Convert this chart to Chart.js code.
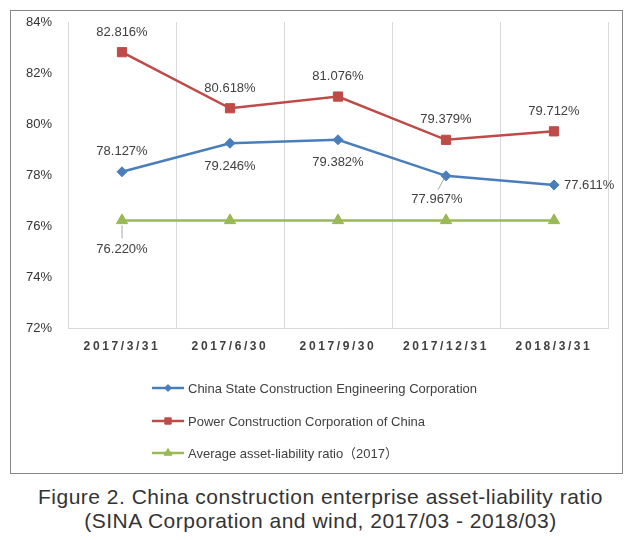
<!DOCTYPE html>
<html>
<head>
<meta charset="utf-8">
<script src="https://cdn.jsdelivr.net/npm/chart.js@4/dist/chart.umd.min.js"></script>
<style>
  body { margin: 0; background: #fff; width: 641px; height: 540px; position: relative; overflow: hidden; }
  #box { position: absolute; left: 10px; top: 10px; width: 611px; height: 462px; border: 1px solid #868686; }
  #caption {
    position: absolute; left: 0; top: 485px; width: 641px; text-align: center;
    font-family: "Liberation Sans", Arial, sans-serif; font-size: 21px; line-height: 24px;
    letter-spacing: 0.5px; color: #333;
  }
</style>
</head>
<body>
<div id="box"><canvas id="ratioChart"></canvas></div>
<div id="caption">Figure 2. China construction enterprise asset-liability ratio<br>(SINA Corporation and wind, 2017/03 - 2018/03)</div>
<script>
// quarter-end dates
const categories = ["2017/3/31", "2017/6/30", "2017/9/30", "2017/12/31", "2018/3/31"];
const seriesNames = [
  "China State Construction Engineering Corporation",
  "Power Construction Corporation of China",
  "Average asset-liability ratio（2017）"
];
// asset-liability ratio, %
const cscecRatio = [78.127, 79.246, 79.382, 77.967, 77.611];
const powerChinaRatio = [82.816, 80.618, 81.076, 79.379, 79.712];
const averageRatio = [76.220, 76.220, 76.220, 76.220, 76.220];
const yMin = 72;
const yMax = 84;
const yStep = 2;

const FONT = '"Liberation Sans", Arial, "Noto Sans CJK SC", sans-serif';
Chart.defaults.font.family = FONT;

// value labels beside the points, the spaced x labels and the stacked legend
const pointLabels = {
  id: "pointLabels",
  afterDatasetsDraw(chart) {
    const ctx = chart.ctx;
    ctx.save();
    ctx.font = "13px " + FONT;
    ctx.fillStyle = "#404040";
    ctx.textBaseline = "middle";
    ctx.strokeStyle = "#a6a6a6";
    ctx.lineWidth = 1;
    chart.data.datasets.forEach((ds, di) => {
      const meta = chart.getDatasetMeta(di);
      meta.data.forEach((pt, i) => {
        const pos = ds.labelPos[i];
        if (!pos) return;
        const text = ds.data[i].toFixed(3) + "%";
        let x = pt.x;
        let y = pt.y;
        ctx.textAlign = "center";
        if (pos === "top") {
          y -= 20;
        } else if (pos === "bottom") {
          y += 23;
        } else if (pos === "right") {
          ctx.textAlign = "left";
          x += 10;
          y += 1;
        } else if (pos === "leaderDown") {
          ctx.beginPath();
          ctx.moveTo(x, y + 5);
          ctx.lineTo(x, y + 18);
          ctx.stroke();
          y += 29;
        } else if (pos === "leaderLeft") {
          ctx.beginPath();
          ctx.moveTo(x - 2, y + 3);
          ctx.lineTo(x - 8, y + 14);
          ctx.stroke();
          x -= 9;
          y += 24;
        }
        ctx.fillText(text, x, y);
      });
    });
    ctx.restore();
    // x tick labels sit on layer z=1, drawn right after this hook
    ctx.letterSpacing = "2.6px";
  },
  afterDraw(chart) {
    const ctx = chart.ctx;
    ctx.letterSpacing = "0px";
    ctx.save();
    ctx.font = "13px " + FONT;
    ctx.textBaseline = "middle";
    ctx.textAlign = "left";
    const x0 = 141;
    const rows = [377, 410, 442];
    chart.data.datasets.forEach((ds, di) => {
      const y = rows[di];
      ctx.strokeStyle = ds.borderColor;
      ctx.lineWidth = 2.5;
      ctx.beginPath();
      ctx.moveTo(x0, y);
      ctx.lineTo(x0 + 32, y);
      ctx.stroke();
      ctx.fillStyle = ds.borderColor;
      ctx.lineWidth = 1;
      Chart.helpers.drawPoint(ctx, {
        pointStyle: ds.pointStyle,
        radius: ds.legendRadius,
        rotation: 0,
        borderWidth: 1
      }, x0 + 16, y);
      ctx.fillStyle = "#404040";
      ctx.fillText(ds.label, x0 + 36, y + 1);
    });
    ctx.restore();
  }
};

new Chart(document.getElementById("ratioChart"), {
  type: "line",
  data: {
    labels: categories,
    datasets: [
      {
        label: seriesNames[0],
        data: cscecRatio,
        borderColor: "#4a7ebb",
        backgroundColor: "#4a7ebb",
        borderWidth: 2.5,
        pointStyle: "rectRot",
        pointRadius: 5,
        pointBorderWidth: 1,
        legendRadius: 3.5,
        labelPos: ["top", "bottom", "bottom", "leaderLeft", "right"]
      },
      {
        label: seriesNames[1],
        data: powerChinaRatio,
        borderColor: "#be4b48",
        backgroundColor: "#be4b48",
        borderWidth: 2.5,
        pointStyle: "rect",
        pointRadius: 6.5,
        pointBorderWidth: 1,
        legendRadius: 4.5,
        labelPos: ["top", "top", "top", "top", "top"]
      },
      {
        label: seriesNames[2],
        data: averageRatio,
        borderColor: "#98b954",
        backgroundColor: "#98b954",
        borderWidth: 2.5,
        pointStyle: "triangle",
        pointRadius: 6.5,
        pointBorderWidth: 1,
        legendRadius: 4.5,
        labelPos: ["leaderDown", null, null, null, null]
      }
    ]
  },
  options: {
    responsive: true,
    maintainAspectRatio: false,
    animation: false,
    layout: { padding: { top: 11, right: 14, left: 0, bottom: 105 } },
    elements: { line: { tension: 0 } },
    scales: {
      x: {
        offset: true,
        afterFit: (s) => { s.height = 40; },
        grid: { offset: true, color: "#d9d9d9", drawTicks: false },
        border: { color: "#d9d9d9" },
        ticks: {
          z: 1,
          padding: 11,
          color: "#404040",
          font: { size: 12, weight: "bold" },
          maxRotation: 0
        }
      },
      y: {
        min: yMin,
        max: yMax,
        afterFit: (s) => {
          s.width = 57;
          s.paddingTop = 0;
          s.paddingBottom = 0;
        },
        grid: { display: false, drawTicks: false },
        border: { color: "#d9d9d9" },
        ticks: {
          stepSize: yStep,
          padding: 16,
          color: "#333",
          font: { size: 13 },
          callback: (v) => v + "%"
        }
      }
    },
    plugins: {
      legend: { display: false },
      tooltip: { enabled: false }
    }
  },
  plugins: [pointLabels]
});
</script>
</body>
</html>
